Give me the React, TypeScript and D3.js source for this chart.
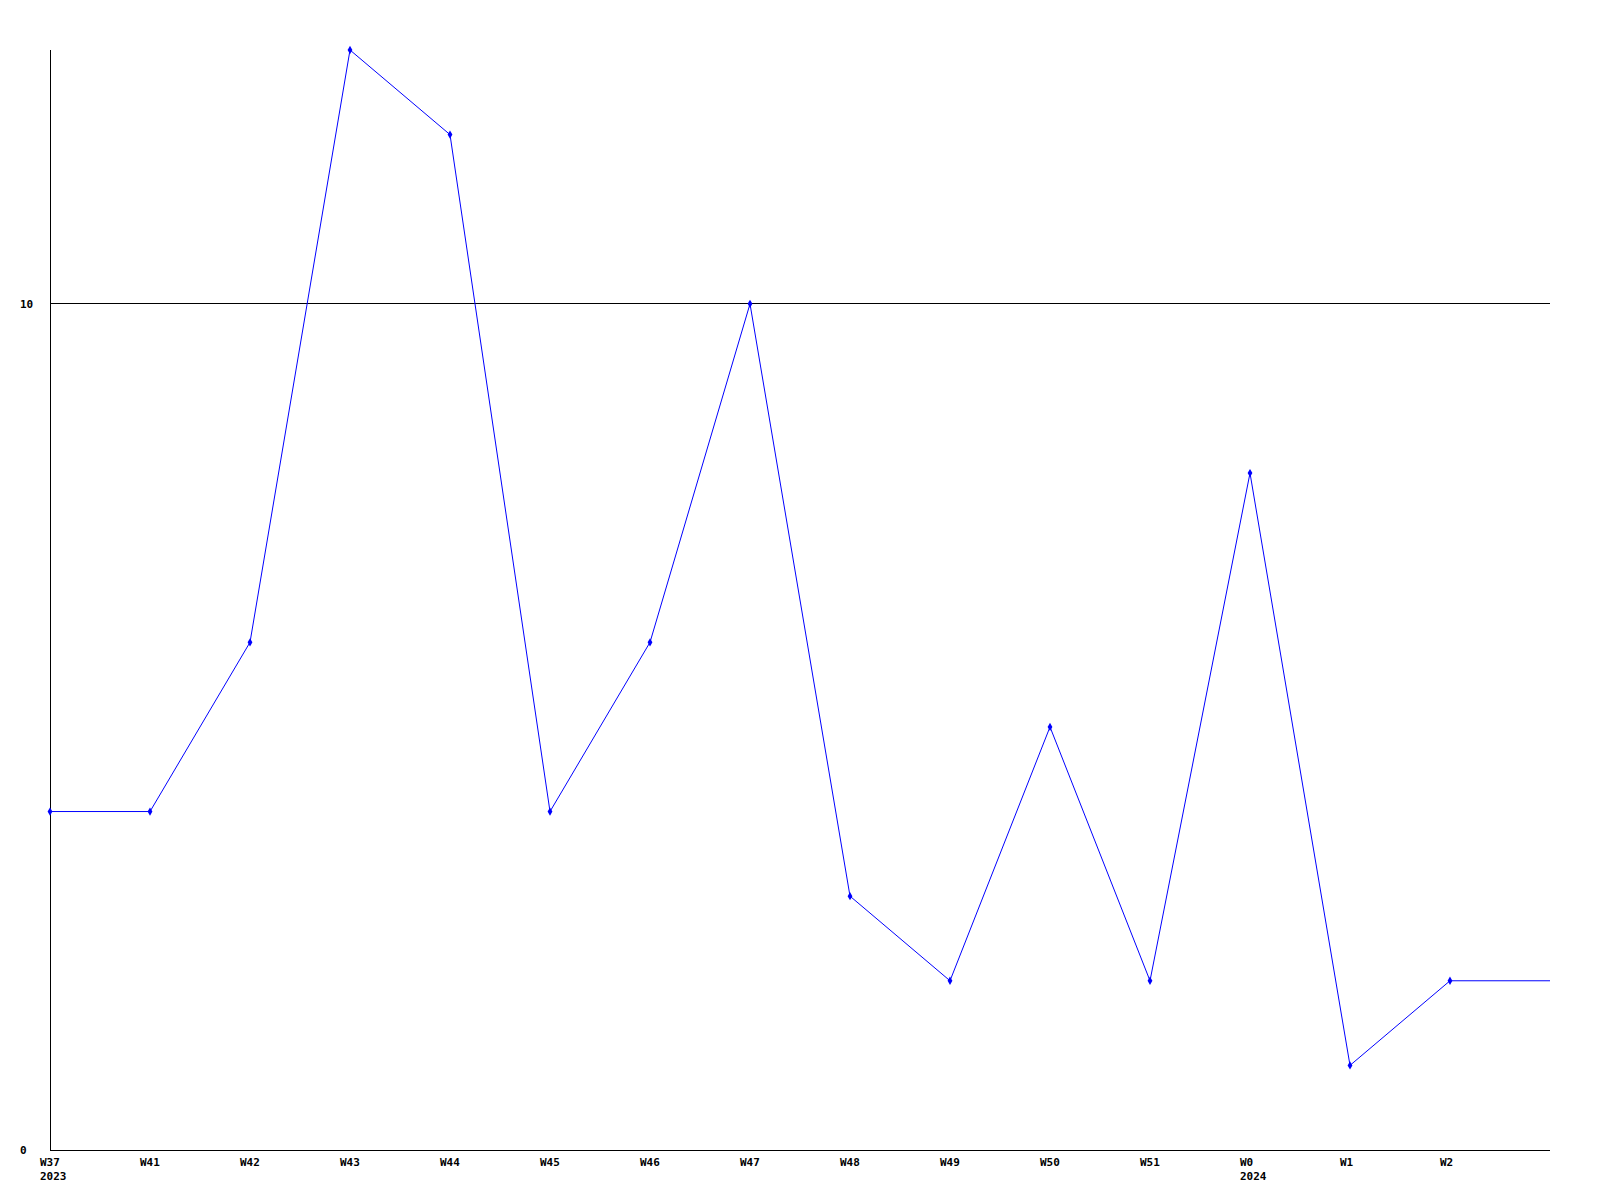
import React from "react";
import * as d3 from "d3";

const weekLabels = ["W37", "W41", "W42", "W43", "W44", "W45", "W46", "W47", "W48", "W49", "W50", "W51", "W0", "W1", "W2", ""];
const yearLabels = ["2023", "", "", "", "", "", "", "", "", "", "", "", "2024", "", "", ""];
const values = [4, 4, 6, 13, 12, 4, 6, 10, 3, 2, 5, 2, 8, 1, 2, 2];
const hasMarker = [true, true, true, true, true, true, true, true, true, true, true, true, true, true, true, false];
const yTicks = [0, 10];

export default function App() {
  const W = 1600, H = 1200;
  const left = 50, right = 1550, top = 50, bottom = 1150;
  const x = d3.scaleLinear().domain([0, values.length - 1]).range([left, right]);
  const y = d3.scaleLinear().domain([0, 13]).range([bottom, top]);
  const line = d3.line<number>().x((_, i) => x(i)).y((d) => y(d));
  const font = { fontFamily: "'DejaVu Sans Mono', monospace", fontWeight: 700, fontSize: 11 };
  return (
    <svg width={W} height={H} style={{ position: "absolute", left: 0, top: 0, background: "#fff" }}>
      <rect width={W} height={H} fill="#fff" />
      {yTicks.filter((t) => t > 0).map((t) => (
        <line key={t} x1={left} x2={right} y1={Math.floor(y(t)) + 0.5} y2={Math.floor(y(t)) + 0.5} stroke="#000" strokeWidth={1} />
      ))}
      <line x1={left + 0.5} x2={left + 0.5} y1={top} y2={bottom} stroke="#000" />
      <line x1={left} x2={right} y1={bottom + 0.5} y2={bottom + 0.5} stroke="#000" />
      {yTicks.map((t) => (
        <text key={t} x={20} y={y(t)} dy="0.35em" textAnchor="start" {...font}>{t}</text>
      ))}
      {weekLabels.map((l, i) => (
        <text key={"w" + i} x={x(i) - 10} y={1162} dy="0.35em" textAnchor="start" {...font}>{l}</text>
      ))}
      {yearLabels.map((l, i) => l ? (
        <text key={"y" + i} x={x(i) - 10} y={1176} dy="0.35em" textAnchor="start" {...font}>{l}</text>
      ) : null)}
      <path d={line(values) || ""} fill="none" stroke="#0000ff" strokeWidth={1} />
      {values.map((v, i) => hasMarker[i] ? (
        <path key={"m" + i} transform={`translate(${x(i)},${y(v)})`} d={d3.symbol(d3.symbolDiamond, 20)() || ""} fill="#0000ff" />
      ) : null)}
    </svg>
  );
}
